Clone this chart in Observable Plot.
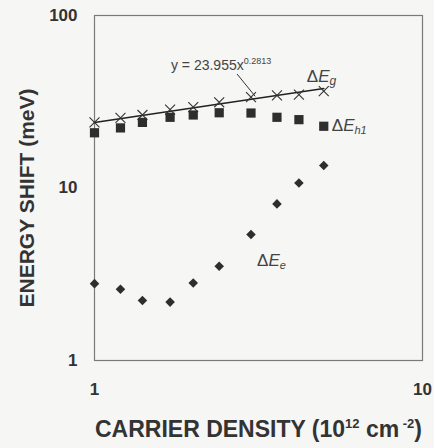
<!DOCTYPE html>
<html>
<head>
<meta charset="utf-8">
<script src="https://cdn.jsdelivr.net/npm/d3@7"></script>
<script src="https://cdn.jsdelivr.net/npm/@observablehq/plot@0.6"></script>
<style>
  html, body { margin: 0; padding: 0; background: #f6f6f4; }
  #chart { width: 434px; height: 448px; }
</style>
</head>
<body>
<div id="chart"></div>
<script>
// ---- data ----
const density = [1, 1.2, 1.4, 1.7, 2, 2.4, 3, 3.6, 4.2, 5];
const shiftG  = [24.0, 25.5, 26.5, 28.5, 29.4, 31.4, 33.6, 34.4, 34.8, 36.4];
const shiftH1 = [20.9, 22.3, 24.0, 25.7, 26.5, 27.3, 27.2, 25.7, 24.9, 22.8];
const shiftE  = [2.79, 2.59, 2.23, 2.18, 2.81, 3.52, 5.37, 8.09, 10.7, 13.5];
const fitX = [1, 5];
const fitY = [23.955, 37.7];
const xTicks = [1, 10];
const yTicks = [1, 10, 100];
const xTitle = "CARRIER DENSITY (1012 cm-2)";
const yTitle = "ENERGY SHIFT (meV)";
const eqText = "y = 23.955x0.2813";
const labels = [
  {x: 4.44, y: 44.0, key: "ΔEg"},
  {x: 5.29, y: 23.0, key: "ΔEh1"},
  {x: 3.13, y: 3.79, key: "ΔEe"}
];
const eqPos = [{x: 1.71, y: 51.3}];
const pointer = [{x1: 2.72, y1: 45.8, x2: 3.09, y2: 34.0}];

const rowsG = density.map((d, i) => ({x: d, y: shiftG[i]}));
const rowsH = density.map((d, i) => ({x: d, y: shiftH1[i]}));
const rowsE = density.map((d, i) => ({x: d, y: shiftE[i]}));
const fitRows = fitX.map((d, i) => ({x: d, y: fitY[i]}));

const ink = "#333";
const font = "'Liberation Sans', Arial, Helvetica, sans-serif";

const svg = Plot.plot({
  width: 434,
  height: 448,
  marginLeft: 94,
  marginRight: 12,
  marginTop: 15,
  marginBottom: 88,
  style: {background: "#f6f6f4", fontFamily: font, color: ink},
  x: {type: "log", domain: [1, 10]},
  y: {type: "log", domain: [1, 100]},
  marks: [
    Plot.frame({stroke: "#7a7a7a", strokeWidth: 1.2}),
    Plot.axisX(xTicks, {tickSize: 0, tickPadding: 22, fontSize: 17, fontWeight: "bold", fill: ink, label: null, tickFormat: d => String(d)}),
    Plot.axisY(yTicks, {tickSize: 0, tickPadding: 17, fontSize: 17, fontWeight: "bold", fill: ink, label: null, tickFormat: d => String(d)}),
    Plot.line(fitRows, {x: "x", y: "y", stroke: "#222", strokeWidth: 1.6}),
    Plot.link(pointer, {x1: "x1", y1: "y1", x2: "x2", y2: "y2", stroke: "#333", strokeWidth: 1}),
    Plot.dot(rowsG, {x: "x", y: "y", symbol: "times", r: 4.6, stroke: "#333", strokeWidth: 1.1}),
    Plot.dot(rowsH, {x: "x", y: "y", symbol: "square", r: 5.2, fill: "#2e2e2e", stroke: "none"}),
    Plot.dot(rowsE, {x: "x", y: "y", symbol: "diamond2", r: 4.3, fill: "#2e2e2e", stroke: "none"}),
    Plot.text(labels, {x: "x", y: "y", text: "key", textAnchor: "start", fontSize: 17, fill: "#444"}),
    Plot.text(eqPos, {x: "x", y: "y", text: () => eqText, textAnchor: "start", fontSize: 14, fill: "#444"}),
    Plot.text([xTitle], {frameAnchor: "bottom", textAnchor: "middle", dy: 76, text: d => d, fontSize: 23, fontWeight: "bold", fill: ink}),
    Plot.text([yTitle], {frameAnchor: "left", textAnchor: "middle", dx: -67, dy: 10, rotate: -90, text: d => d, fontSize: 21, fontWeight: "bold", fill: ink})
  ]
});

function rich(key, parts) {
  d3.select(svg).selectAll("text").filter(function() { return this.textContent === key; }).each(function() {
    const el = d3.select(this);
    el.text("");
    let shift = 0;
    for (const p of parts) {
      const ts = el.append("tspan").text(p.t);
      const target = p.dy || 0;
      const d = target - shift;
      if (d !== 0) ts.attr("dy", d + "px");
      shift = target;
      if (p.italic) ts.attr("font-style", "italic");
      if (p.size) ts.attr("font-size", p.size);
    }
  });
}

rich(xTitle, [
  {t: "CARRIER DENSITY (10"}, {t: "12", dy: -9, size: 13}, {t: " cm"}, {t: " -2", dy: -9, size: 13}, {t: ")"}
]);
rich(eqText, [{t: "y = 23.955x"}, {t: "0.2813", dy: -6, size: 9}]);
rich("ΔEg", [{t: "Δ"}, {t: "E", italic: true}, {t: "g", italic: true, size: 12, dy: 3}]);
rich("ΔEh1", [{t: "Δ"}, {t: "E", italic: true}, {t: "h1", italic: true, size: 11, dy: 3}]);
rich("ΔEe", [{t: "Δ"}, {t: "E", italic: true}, {t: "e", italic: true, size: 11, dy: 3}]);

document.getElementById("chart").appendChild(svg);
</script>
</body>
</html>
